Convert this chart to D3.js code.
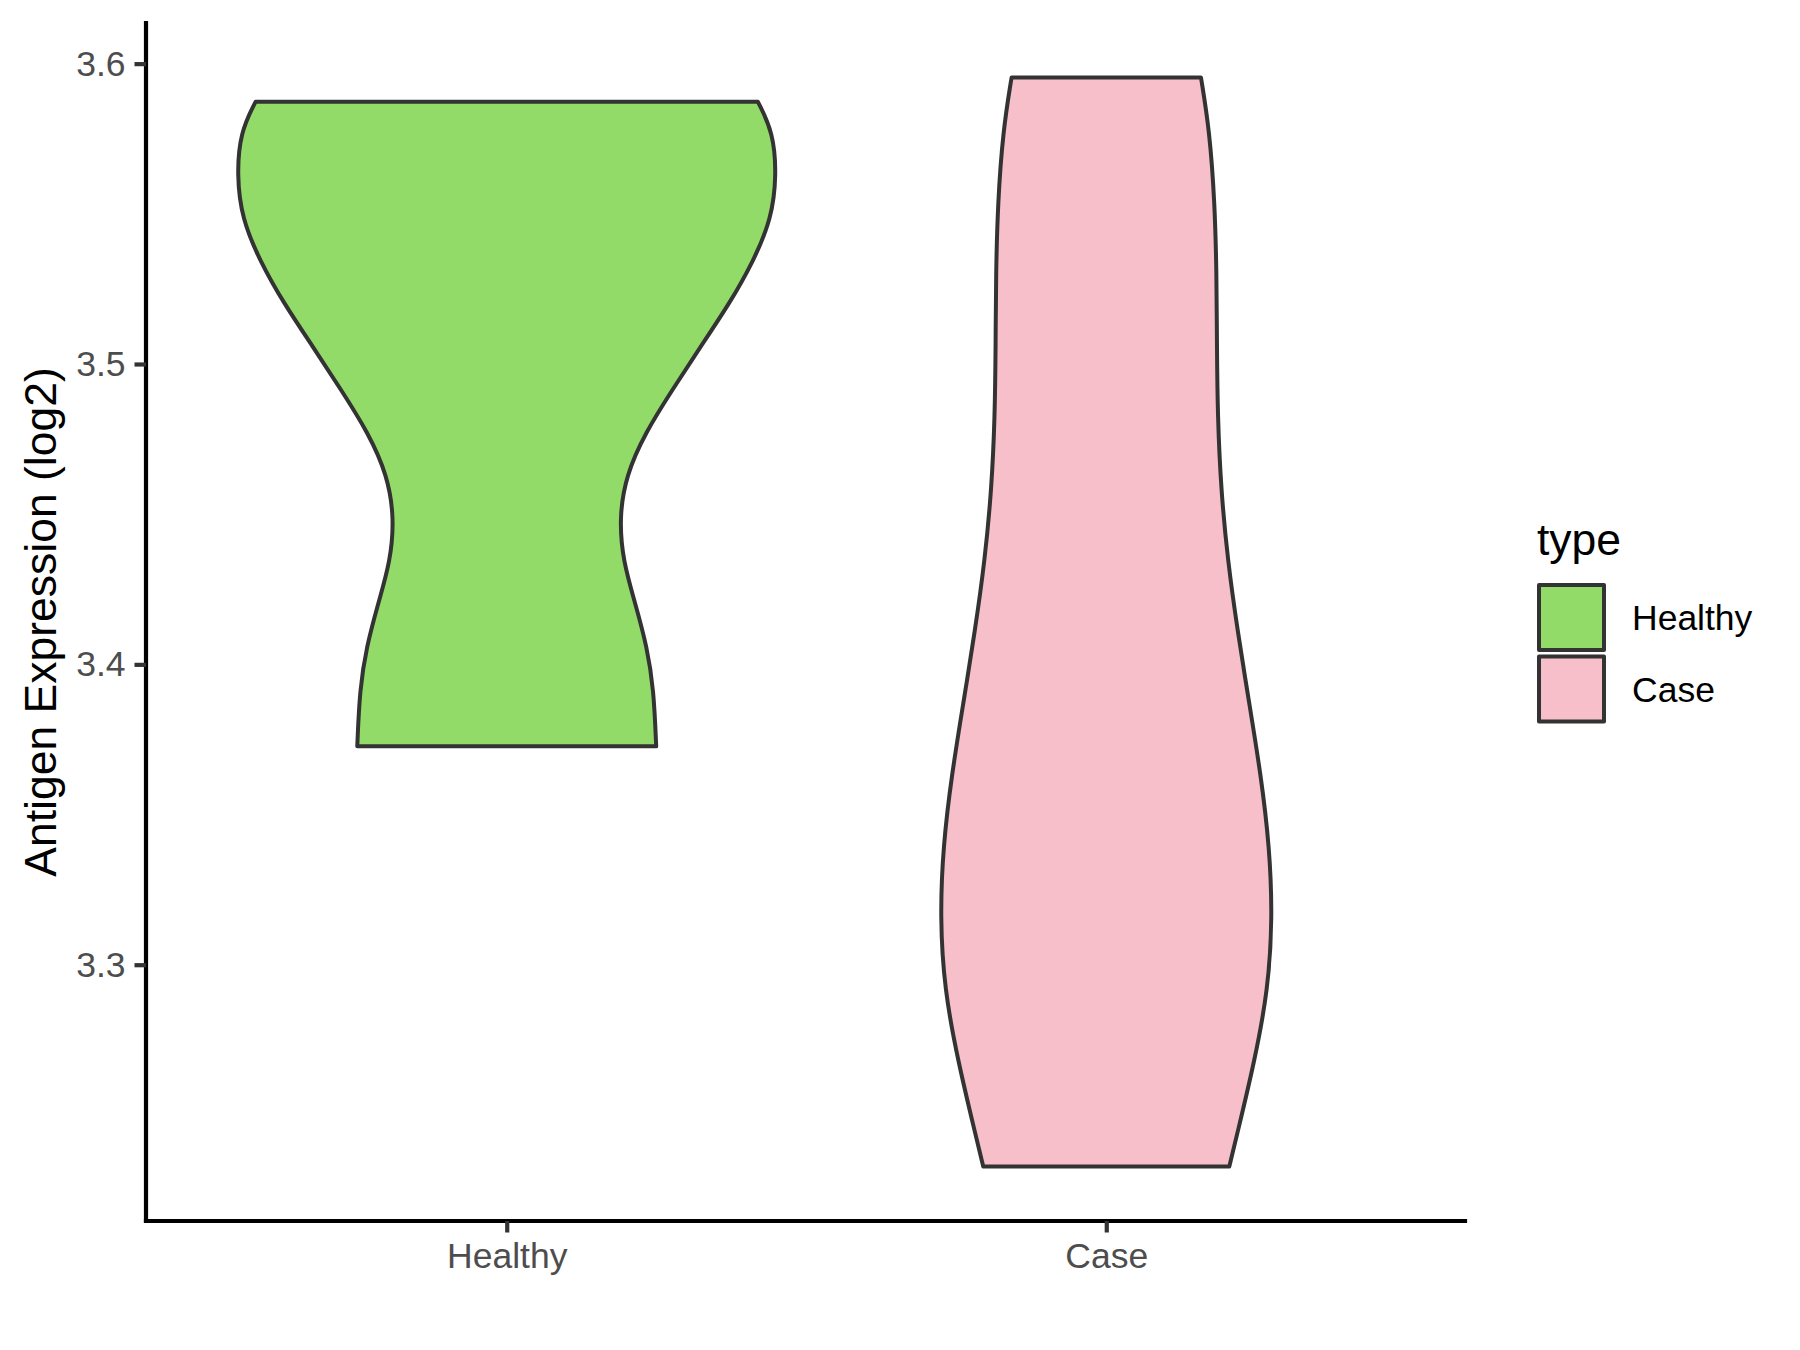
<!DOCTYPE html>
<html>
<head>
<meta charset="utf-8">
<script src="https://cdn.jsdelivr.net/npm/d3@7"></script>
<style>
body{margin:0;background:#fff;}
svg text{font-family:"Liberation Sans",Arial,sans-serif;}
</style>
</head>
<body>
<div id="chart"></div>
<script>
// groups and colours
var groups=['Healthy','Case'];
var fills=['#93DB69','#F7BFCA'];
var yTicks=[3.3,3.4,3.5,3.6];

// violin outlines: expression level and relative width (1 = widest)
var healthyLevels=[3.5873,3.5771,3.5628,3.5485,3.5343,3.52,3.5057,3.4914,3.4772,3.4629,3.4487,3.4343,3.4201,3.4058,3.3916,3.3727];
var healthyWidth=[0.931,0.988,1.0,0.982,0.915,0.825,0.718,0.614,0.514,0.442,0.417,0.431,0.477,0.520,0.545,0.554];
var caseLevels=[3.5954,3.5775,3.5537,3.5299,3.5061,3.4823,3.4585,3.4347,3.4109,3.3870,3.3632,3.3394,3.3157,3.2918,3.2680,3.2443,3.2328];
var caseWidth=[0.351,0.383,0.402,0.409,0.410,0.413,0.425,0.450,0.487,0.530,0.573,0.605,0.616,0.600,0.550,0.487,0.456];

var violins=[
    {name:'Healthy',levels:healthyLevels,width:healthyWidth},
    {name:'Case',levels:caseLevels,width:caseWidth}
];

var W=1800,H=1350;
var panelLeft=146,panelRight=1465,panelTop=23,panelBottom=1221;

var svg=d3.select('#chart').append('svg')
    .attr('width',W)
    .attr('height',H);

// y range with 5% padding like ggplot
var allLevels=healthyLevels.concat(caseLevels);
var lo=d3.min(allLevels),hi=d3.max(allLevels);
var pad=(hi-lo)*0.05;
var y=d3.scaleLinear()
    .domain([lo-pad,hi+pad])
    .range([panelBottom,panelTop]);

var x=d3.scalePoint()
    .domain(groups)
    .range([panelLeft+1,panelRight+1])
    .padding(0.6);

var halfMax=x.step()*0.45;
var w=d3.scaleLinear().domain([0,1]).range([0,halfMax]);

var color=d3.scaleOrdinal().domain(groups).range(fills);

violins.forEach(function(v){
    var pts=v.levels.map(function(l,i){ return {v:l,d:v.width[i]}; });
    var cx=x(v.name);
    var area=d3.area()
        .y(function(d){ return y(d.v); })
        .x0(function(d){ return cx-w(d.d); })
        .x1(function(d){ return cx+w(d.d); })
        .curve(d3.curveBasis);
    svg.append('path')
        .attr('d',area(pts))
        .attr('fill',color(v.name))
        .attr('stroke','#333333')
        .attr('stroke-width',4)
        .attr('stroke-linejoin','round');
});

// axes
var yAxis=svg.append('g')
    .attr('transform','translate('+panelLeft+',0)')
    .call(d3.axisLeft(y).tickValues(yTicks).tickFormat(d3.format('.1f')).tickSize(11.5).tickSizeOuter(0).tickPadding(9));
var xAxis=svg.append('g')
    .attr('transform','translate(0,'+panelBottom+')')
    .call(d3.axisBottom(x).tickSize(11.5).tickSizeOuter(0).tickPadding(9));

[yAxis,xAxis].forEach(function(a){
    a.select('.domain').attr('stroke','#000').attr('stroke-width',4.2).attr('stroke-linecap','square');
    a.selectAll('.tick line').attr('stroke','#333333').attr('stroke-width',4.2);
    a.selectAll('.tick text').attr('fill','#4D4D4D').style('font-size','35.5px');
});
// domain lines span the whole panel
yAxis.select('.domain').attr('d','M0,'+panelTop+'V'+panelBottom);
xAxis.select('.domain').attr('d','M'+panelLeft+',0H'+panelRight);
xAxis.selectAll('.tick text').attr('dy',null).attr('y',47);

// y title
svg.append('text')
    .attr('transform','translate(56,'+((panelTop+panelBottom)/2)+') rotate(-90)')
    .attr('text-anchor','middle')
    .style('font-size','44.5px')
    .attr('fill','#000')
    .text('Antigen Expression (log2)');

// legend
var legend=svg.append('g');
legend.append('text')
    .attr('x',1537)
    .attr('y',555)
    .style('font-size','44.5px')
    .text('type');
groups.forEach(function(g,i){
    legend.append('rect')
        .attr('x',1539)
        .attr('y',585+i*71.5)
        .attr('width',65)
        .attr('height',65)
        .attr('fill',color(g))
        .attr('stroke','#333333')
        .attr('stroke-width',4)
        .attr('stroke-linejoin','round');
    legend.append('text')
        .attr('x',1632)
        .attr('y',630+i*71.5)
        .style('font-size','35.5px')
        .attr('fill','#000')
        .text(g);
});
</script>
</body>
</html>
